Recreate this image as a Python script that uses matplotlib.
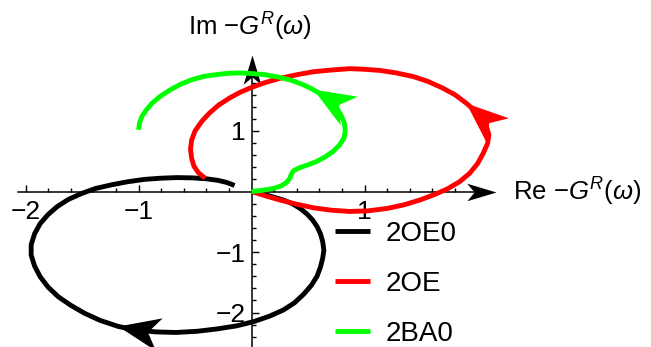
import matplotlib
matplotlib.use("Agg")
import matplotlib.pyplot as plt
from matplotlib.path import Path
from matplotlib.markers import MarkerStyle
from matplotlib.transforms import Affine2D
import numpy as np

plt.rcParams['font.family'] = ['Liberation Sans', 'DejaVu Sans']
plt.rcParams['mathtext.fontset'] = 'custom'
plt.rcParams['mathtext.rm'] = 'Liberation Sans'
plt.rcParams['mathtext.it'] = 'Liberation Sans:italic'

# ---- data ----
black_x = [0.0, 0.1, 0.19, 0.28, 0.36, 0.43, 0.49, 0.54, 0.58, 0.61, 0.63, 0.64, 0.63, 0.61,
           0.58, 0.53, 0.46, 0.38, 0.28, 0.16, 0.02, -0.13, -0.3, -0.48, -0.67, -0.85,
           -1.02, -1.18, -1.34, -1.48, -1.6, -1.71, -1.8, -1.87, -1.92, -1.95, -1.95,
           -1.92, -1.87, -1.8, -1.72, -1.62, -1.5, -1.38, -1.24, -1.1, -0.95, -0.8,
           -0.66, -0.52, -0.40, -0.3, -0.22, -0.15]
black_y = [0.0, -0.04, -0.09, -0.14, -0.2, -0.28, -0.37, -0.47, -0.58, -0.7, -0.83, -0.97,
           -1.1, -1.25, -1.4, -1.55, -1.7, -1.84, -1.96, -2.06, -2.15, -2.22, -2.27, -2.31,
           -2.33, -2.32, -2.29, -2.23, -2.13, -2.01, -1.88, -1.74, -1.58, -1.41, -1.23,
           -1.05, -0.88, -0.7, -0.53, -0.38, -0.25, -0.13, -0.03, 0.05, 0.11, 0.16, 0.2,
           0.22, 0.23, 0.225, 0.21, 0.185, 0.15, 0.1]

red_x = [0.0, 0.12, 0.25, 0.4, 0.55, 0.71, 0.87, 1.03, 1.2, 1.35, 1.49, 1.62, 1.73, 1.84,
         1.93, 2.0, 2.05, 2.09, 2.10, 2.08, 2.04, 1.98, 1.9, 1.8, 1.68, 1.56, 1.43, 1.28,
         1.14, 1.0, 0.87, 0.72, 0.55, 0.4, 0.25, 0.12, 0.0, -0.1, -0.19, -0.29, -0.37,
         -0.44, -0.5, -0.53, -0.54, -0.53, -0.51, -0.47, -0.41]
red_y = [0.0, -0.07, -0.14, -0.21, -0.27, -0.31, -0.33, -0.32, -0.28, -0.22, -0.14, -0.05,
         0.04, 0.16, 0.30, 0.46, 0.63, 0.8, 0.94, 1.07, 1.2, 1.33, 1.46, 1.6, 1.72, 1.82,
         1.9, 1.96, 2.0, 2.02, 2.03, 2.01, 1.98, 1.93, 1.87, 1.8, 1.72, 1.64, 1.55, 1.43,
         1.3, 1.16, 1.0, 0.85, 0.7, 0.55, 0.42, 0.31, 0.22]

green_x = [0.0, 0.1, 0.19, 0.26, 0.31, 0.34, 0.35, 0.37, 0.42, 0.5, 0.58, 0.65, 0.72, 0.78,
           0.82, 0.83, 0.82, 0.79, 0.75, 0.69, 0.62, 0.54, 0.45, 0.35, 0.24, 0.12, 0.0,
           -0.1, -0.2, -0.32, -0.43, -0.54, -0.63, -0.72, -0.81, -0.88, -0.93, -0.97,
           -0.99, -1.0]
green_y = [0.0, 0.02, 0.05, 0.09, 0.15, 0.22, 0.28, 0.34, 0.39, 0.44, 0.5, 0.57, 0.66, 0.77,
           0.89, 1.02, 1.14, 1.27, 1.39, 1.5, 1.6, 1.69, 1.77, 1.84, 1.89, 1.93, 1.95,
           1.96, 1.955, 1.93, 1.9, 1.84, 1.77, 1.68, 1.57, 1.46, 1.35, 1.24, 1.14, 1.02]

# (label, x, y, colour, (arrow tail index, arrow tip index))
series = [("2OE0", black_x, black_y, "#000000", (26, 27)),
          ("2OE", red_x, red_y, "#ff0000", (21, 22)),
          ("2BA0", green_x, green_y, "#00ff00", (20, 21))]

x_major = [-2, -1, 1]
y_major = [-2, -1, 1]
x_minor = np.round(np.arange(-2.0, 2.01, 0.2), 2)
y_minor = np.round(np.arange(-2.4, 2.01, 0.2), 2)

fig = plt.figure(figsize=(6.51, 3.47), dpi=100)
ax = fig.add_axes([0, 0, 1, 1])
ax.set_xlim(-2.2257, 3.535)
ax.set_ylim(-2.570, 3.165)
ax.patch.set_alpha(0)


def dart(half_width, notch):
    verts = [(0, 0), (-1, half_width), (-notch, 0), (-1, -half_width), (0, 0)]
    codes = [Path.MOVETO, Path.LINETO, Path.LINETO, Path.LINETO, Path.CLOSEPOLY]
    return Path(verts, codes)


def head(x0, y0, x1, y1, color, length_pt, half_width, notch, z=3):
    p0 = ax.transData.transform((x0, y0))
    p1 = ax.transData.transform((x1, y1))
    ang = np.degrees(np.arctan2(p1[1] - p0[1], p1[0] - p0[0]))
    m = MarkerStyle(dart(half_width, notch), transform=Affine2D().rotate_deg(ang))
    ax.plot([x1], [y1], marker=m, markersize=2 * length_pt, color=color,
            markeredgewidth=0, linestyle='none', zorder=z)


for name, xs, ys, col, (i0, i1) in series:
    ax.plot(xs, ys, color=col, lw=3.5, solid_capstyle='butt',
            solid_joinstyle='round', label=name)
    head(xs[i0], ys[i0], xs[i1], ys[i1], col, 30, 0.40, 0.72)

# axes through origin
for s in ['top', 'right']:
    ax.spines[s].set_visible(False)
ax.spines['left'].set_position(('data', 0))
ax.spines['bottom'].set_position(('data', 0))
ax.spines['bottom'].set_bounds(-2.07, 2.05)
ax.spines['left'].set_bounds(-2.57, 2.1)
for s in ['left', 'bottom']:
    ax.spines[s].set_linewidth(1.1)
    ax.spines[s].set_zorder(0.5)

ax.set_xticks(x_major)
ax.set_yticks(y_major)
ax.set_xticks(x_minor, minor=True)
ax.set_yticks(y_minor, minor=True)
ax.tick_params(which='both', direction='in', width=1.0)
ax.tick_params(which='major', length=5, labelsize=19)
ax.tick_params(which='minor', length=3)
ax.tick_params(axis='x', which='major', pad=6)
ax.tick_params(axis='y', which='major', pad=4)

# axis arrowheads
head(2.0, 0, 2.16, 0, 'black', 21, 0.30, 0.75, z=1)
head(0, 2.0, 0, 2.25, 'black', 21, 0.30, 0.75, z=1)

ax.text(2.31, 0.0, r"Re $-G^{R}(\omega)$", fontsize=18.5, ha='left', va='center')
ax.text(-0.01, 2.72, r"Im $-G^{R}(\omega)$", fontsize=18.5, ha='center', va='center')

ax.legend(loc='upper left', bbox_to_anchor=(335/651, 1 - 221/347),
          bbox_transform=fig.transFigure, frameon=False, fontsize=20,
          handlelength=1.26, handletextpad=0.58, labelspacing=0.86,
          borderpad=0, borderaxespad=0)

fig.savefig("out.png", dpi=100)
